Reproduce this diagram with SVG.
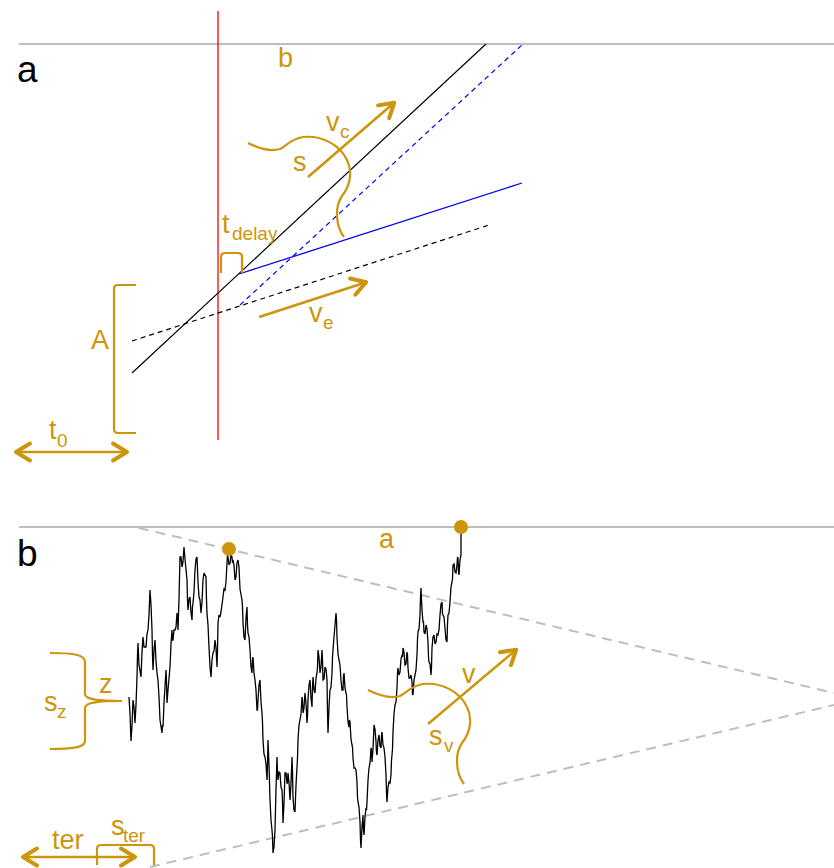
<svg xmlns="http://www.w3.org/2000/svg" width="834" height="868" viewBox="0 0 834 868">
<style>
.gold{fill:none;stroke:#CD950C;stroke-width:2.2}
.arr{fill:none;stroke:#CD950C;stroke-width:2.6}
.gt{fill:#CD950C;font-family:"Liberation Sans",Arial,sans-serif;font-size:27px}
.gs{fill:#CD950C;font-family:"Liberation Sans",Arial,sans-serif;font-size:19px}
.pl{fill:#000;font-family:"Liberation Sans",Arial,sans-serif;font-size:37px}
.axis{stroke:#BEBEBE;stroke-width:2;fill:none}
.bound{stroke:#BEBEBE;stroke-width:2;fill:none;stroke-dasharray:10 7}
</style>
<defs>
<marker id="head" viewBox="-20 -12 24 24" markerUnits="userSpaceOnUse" markerWidth="24" markerHeight="24" refX="0" refY="0" orient="auto-start-reverse">
<path d="M-15,-8.5 L-1,0 L-15,8.5" fill="none" stroke="#CD950C" stroke-width="4" stroke-linejoin="round" stroke-linecap="round"/>
</marker>
<path id="bell" d="M0,0 C10,5 22,9 32,6 C39,3 42,-4 55,-6 C74,-8 92,2 99,17 C105,29 102,43 94,53 C87,63 87,82 96,94"/>
</defs>

<g id="panel-a">
<line class="axis" x1="19" y1="44" x2="834" y2="44"/>
<text class="pl" x="17" y="82">a</text>
<line x1="218" y1="11" x2="218" y2="440" stroke="#FF0000" stroke-width="1.3"/>
<text class="gt" x="278" y="67">b</text>
</g>

<g id="connectors-a">
<line x1="132" y1="373" x2="486" y2="44" stroke="#000" stroke-width="1.2"/>
<line x1="132" y1="341" x2="489" y2="225" stroke="#000" stroke-width="1.2" stroke-dasharray="5 4"/>
<line x1="239" y1="274" x2="522" y2="183" stroke="#0000FF" stroke-width="1.3"/>
<line x1="240" y1="305" x2="523" y2="44" stroke="#0000FF" stroke-width="1.2" stroke-dasharray="5 4"/>
</g>

<g id="vc">
<use href="#bell" x="248" y="143" class="gold"/>
<line class="arr" x1="308" y1="177" x2="395" y2="102" marker-end="url(#head)"/>
<text class="gt" x="326" y="131">v</text>
<text class="gs" x="340" y="138">c</text>
<text class="gt" x="293" y="171">s</text>
</g>

<g id="tdelay">
<path class="gold" d="M221,273 L221,257 Q221,253 225,253 L238,253 Q242,253 242,257 L242,273"/>
<text class="gt" x="222" y="233">t</text>
<text class="gs" x="232" y="240">delay</text>
</g>

<g id="ve">
<line class="arr" x1="259" y1="317" x2="367" y2="282" marker-end="url(#head)"/>
<text class="gt" x="309" y="322">v</text>
<text class="gs" x="323" y="329">e</text>
</g>

<g id="A">
<path class="gold" d="M136,285 L118,285 Q114,285 114,289 L114,429 Q114,433 118,433 L136,433"/>
<text class="gt" x="91" y="349">A</text>
</g>

<g id="t0">
<line class="arr" x1="15" y1="452" x2="128" y2="452" marker-start="url(#head)" marker-end="url(#head)"/>
<text class="gt" x="49" y="439">t</text>
<text class="gs" x="57" y="447">0</text>
</g>

<g id="panel-b">
<line class="axis" x1="19" y1="527" x2="834" y2="527"/>
<text class="pl" x="17" y="566">b</text>
<text class="gt" x="379" y="548">a</text>
</g>

<g id="connectors-b">
<polyline class="bound" points="20,527 135,527 834,693"/>
<line class="bound" x1="150" y1="867" x2="834" y2="705"/>
<polyline fill="none" stroke="#000" stroke-width="1.3" stroke-linejoin="miter" stroke-miterlimit="3" points="129,697 130,714 131,741 132,725 133,700 134,707 135,723 136,705 137,677 137.5,655 138,643 139,665 141,677 142,652 143,637 144,647 146,647 147,634 148,630 149,615 150,590 151,605 152,630 152.5,655 153,670 154,650 155,640 156,661 157,673 158,680 159,697 160,720 162,733 162.5,725 163,727 164,703 166,670 166.5,682 167,703 168,690 170,667 171,644 172,630 172.5,640 173,640 174,630 175,630 176,627 177,613 177.5,617 178,630 179,599 180,557 181,557 182,567 183,562 184,547 185,559 187,580 187.5,600 188,610 189,599 190,597 191,613 192,620 192.5,607 193,603 194,592 195,570 196,559 197,557 198,582 199,597 200,600 201,613 202,602 203,580 204,573 206,577 206.5,600 207,613 208,625 209,647 210,667 211,677 212,660 213,653 214,651 215,640 216,648 217,667 217.5,650 218,623 219,615 220,617 221,612 223,597 224,589 225,590 226,582 227,563 227.5,555 228,557 229,565 230,563 231,555 232,557 232.5,563 233,560 234,565 235,580 236,577 237,563 238,560 239,567 240,589 242,600 242.5,607 243,623 244,637 245,640 246,618 247,607 247.5,625 248,633 249,637 250,650 251,667 252,673 252.5,660 253,657 254,673 255,680 256,690 257,710 257.5,710 258,700 259,685 260,680 261,702 262,713 262.5,722 263,740 264,754 265,757 266,764 267,780 267.5,765 268,740 269,765 270,800 271,820 272,830 272.5,837 273,853 274,847 275,830 276,789 277,757 277.5,773 278,780 279,772 280,773 281,787 282,790 282.5,802 283,823 284,803 285,773 286,773 287,783 287.5,783 288,773 289,782 290,800 291,784 292,757 292.5,772 293,797 294,810 295,812 296,785 297,767 297.5,758 298,740 299,725 300,720 301,714 302,697 302.5,700 303,713 304,708 305,693 306,703 307,723 307.5,716 308,700 309,685 310,680 311,698 312,707 312.5,687 313,677 314,690 315,693 316,678 317,673 317.5,667 318,650 319,657 320,673 321,667 322,650 322.5,660 323,680 324,679 325,667 326,669 327,680 327.5,712 328,733 329,707 330,690 331,687 332,673 332.5,657 333,650 334,637 336,613 336.5,620 337,637 338,654 339,660 340,665 341,680 342,690 343,690 343.5,677 344,673 345,688 346,693 346.5,695 347,707 348,722 349,727 349.5,720 350,722 351,739 352,745 352.5,747 353,758 354,768 355,768 356,770 357,782 357.5,797 358,802 359,807 360,822 360.5,840 361,848 362,827 363,815 363.5,830 364,835 365,817 366,808 366.5,810 367,802 368,780 369,768 370,763 371,748 371.5,750 372,762 373,749 374,725 375,729 376,742 376.5,753 377,755 378,740 379,735 380,746 381,748 381.5,735 382,732 383,745 384,748 385,757 386,775 386.5,793 387,802 388,787 389,782 390,783 391,775 391.5,760 392,755 392.5,749 393,732 394,714 395,705 396,702 397,688 397.5,673 398,668 399,675 400,672 401,659 402,655 402.5,657 403,648 404,652 405,665 406,664 407,652 407.5,655 408,668 409,678 410,678 411,675 412,682 412.5,694 413,695 414,680 415,675 416,670 417,655 417.5,639 418,632 419,629 420,615 420.5,597 421,588 422,610 423,622 423.5,622 424,632 425,634 426,625 427,629 428,642 428.5,657 429,662 430,664 431,675 431.5,667 432,648 433,637 434,635 435,644 436,642 437,634 438,635 439,630 440,615 441,604 442,602 442.5,614 443,615 444,617 445,628 446,640 447,642 447.5,624 448,615 449,613 450,602 451,587 452,582 452.5,579 453,565 454,564 455,572 456,573 457,565 457.5,557 458,558 458.5,572 459,575 460,560 461,555 461,527"/>
</g>

<g id="dots">
<circle cx="461" cy="527" r="7" fill="#CD950C"/>
<circle cx="229" cy="549" r="7" fill="#CD950C"/>
</g>

<g id="z">
<path class="gold" d="M50,653 C70,653 85,654 85,662 L85,694 C85,700 100,701 122,701 C100,701 85,702 85,708 L85,741 C85,748 70,749 50,749"/>
<text class="gt" x="99" y="693">z</text>
<text class="gt" x="44" y="711">s</text>
<text class="gs" x="57" y="718">z</text>
</g>

<g id="ter">
<line class="arr" x1="22" y1="857" x2="136" y2="857" marker-start="url(#head)" marker-end="url(#head)"/>
<text class="gt" x="52" y="849" font-size="29">ter</text>
<path class="gold" d="M97,865 L97,849 Q97,845 101,845 L150,845 Q154,845 154,849 L154,865"/>
<text class="gt" x="111" y="835">s</text>
<text class="gs" x="123" y="842">ter</text>
</g>

<g id="v">
<use href="#bell" x="368" y="690" class="gold"/>
<line class="arr" x1="428" y1="724" x2="517" y2="649" marker-end="url(#head)"/>
<text class="gt" x="462" y="683">v</text>
<text class="gt" x="429" y="745">s</text>
<text class="gs" x="444" y="752">v</text>
</g>
</svg>
